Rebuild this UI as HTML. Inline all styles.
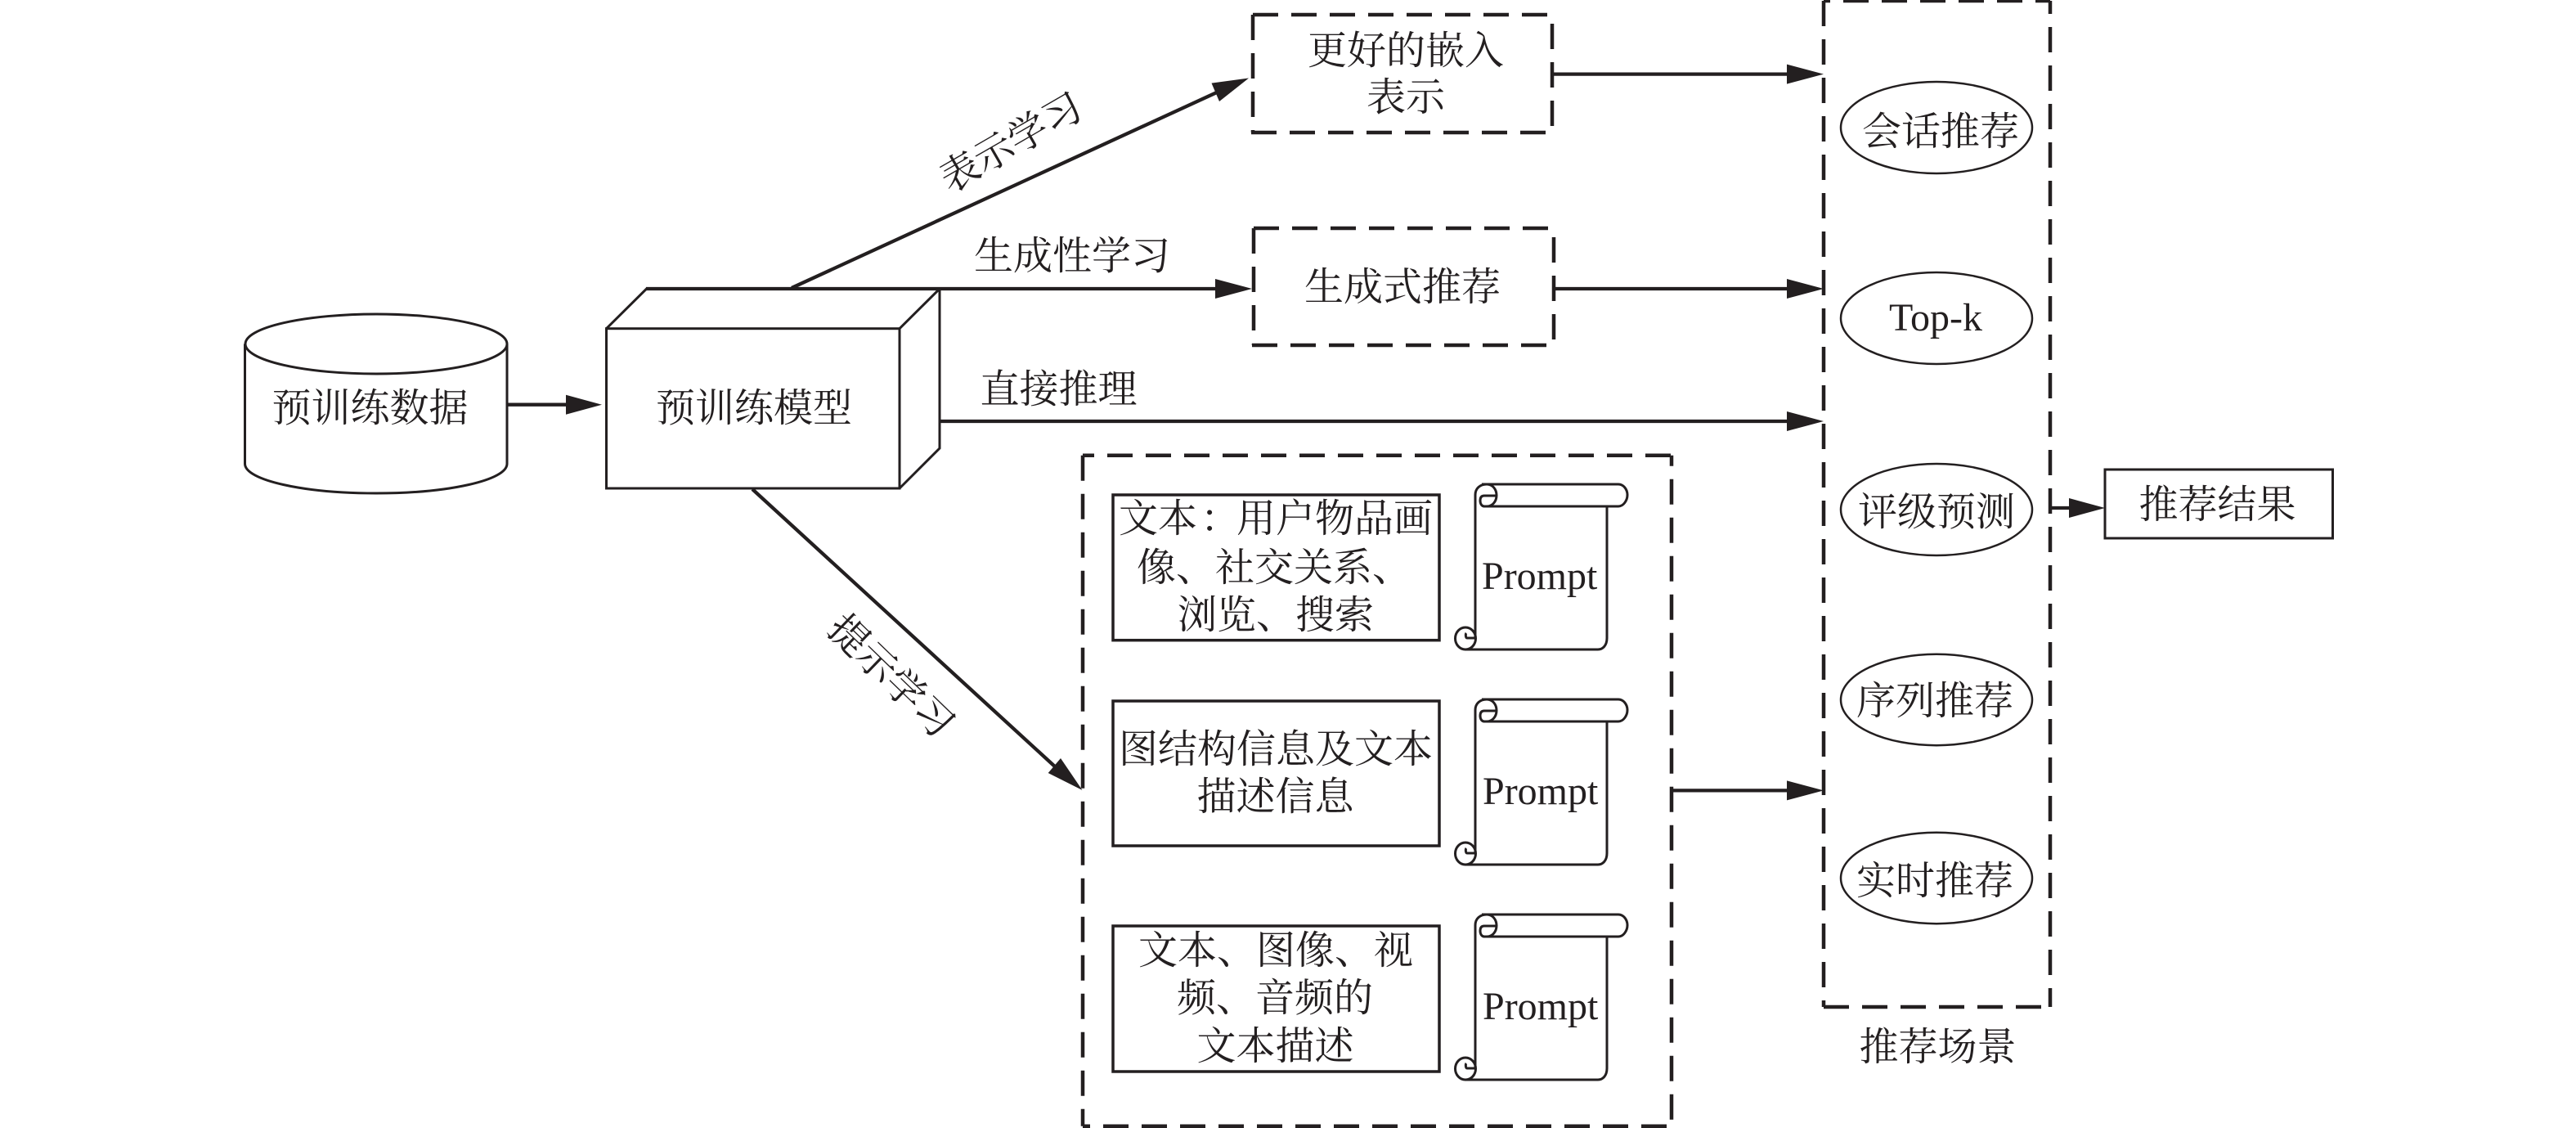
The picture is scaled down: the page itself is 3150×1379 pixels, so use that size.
<!DOCTYPE html>
<html lang="zh"><head><meta charset="utf-8"><title>预训练模型推荐流程图</title>
<style>
html,body{margin:0;padding:0;background:#fff}
svg{display:block}
text{font-family:"Liberation Serif","Noto Serif CJK SC",serif;font-size:48px;fill:#231f20}
.m{text-anchor:middle}
.s{fill:none;stroke:#231f20;stroke-width:4.300}
.b{fill:none;stroke:#231f20;stroke-width:3.500}
.t{fill:none;stroke:#231f20;stroke-width:3}
.e{fill:none;stroke:#231f20;stroke-width:2.500}
.d{fill:none;stroke:#231f20;stroke-width:4.500;stroke-dasharray:31 16}
.a{fill:#231f20;stroke:none}
</style></head><body>
<svg width="3150" height="1379" viewBox="0 0 3150 1379" xmlns="http://www.w3.org/2000/svg">
<defs>
<g id="scroll" fill="none" stroke="#231f20" stroke-width="3">
<path d="M8 0H175C181 0 186 6 186 13S181 27 175 27H10"/>
<path d="M14 0C21 0 26 6 26 13.500S21 27 14 27"/>
<path d="M14 0C6 0 0 5 0 13V188"/>
<path d="M26 14H11C7 14 6 17 6 20C6 24 8 27 11 27"/>
<path d="M161 27V188C161 197 156 202 150 202H-13"/>
<ellipse cx="-12" cy="188.500" rx="12.500" ry="13.500"/>
<path d="M0 188H-10C-12 188 -12 183 -11 182"/>
</g>
</defs>
<rect width="3150" height="1379" fill="#fff"/>

<!-- cylinder -->
<path class="t" d="M299.500 420.500V567C299.500 587 371 603 460 603S620 587 620 567V420.500"/>
<ellipse class="t" cx="460" cy="420.500" rx="160" ry="36.500"/>
<text class="m" x="452.500" y="515">预训练数据</text>
<path class="s" d="M620 494.700H695"/>
<polygon class="a" points="736,494.700 692,482.700 692,506.700"/>

<!-- cube -->
<path class="t" d="M741.500 401.700L790.600 353H1149V548L1100 597M1100 401.700L1149 353"/>
<rect class="t" x="741.500" y="401.700" width="358.500" height="195.300"/>
<text class="m" x="922" y="515">预训练模型</text>

<!-- connectors from the cube -->
<path class="s" d="M968 352L1490 112"/>
<polygon class="a" points="1527,95.500 1481.500,101.600 1491,124"/>
<path class="s" d="M790 353H1490"/>
<polygon class="a" points="1531,353 1486,341 1486,365"/>
<path class="s" d="M1149 515H2190"/>
<polygon class="a" points="2230,515 2185,503 2185,527"/>
<path class="s" d="M920 598L1292 939"/>
<polygon class="a" points="1323.500,966 1281.700,945 1297,927"/>

<text class="m" transform="translate(1236 174) rotate(-30)" x="0" y="17">表示学习</text>
<text class="m" x="1311" y="329">生成性学习</text>
<text class="m" x="1294.500" y="492">直接推理</text>
<text class="m" transform="translate(1090 826) rotate(44)" x="0" y="17">提示学习</text>

<!-- upper dashed boxes -->
<path class="d" d="M1532 18H1898"/>
<path class="d" stroke-dashoffset="36" d="M1898 18V162"/>
<path class="d" d="M1530 162H1898"/>
<path class="d" d="M1532 18V162"/>
<text class="m" x="1719" y="78">更好的嵌入</text>
<text class="m" x="1719" y="135">表示</text>
<path class="s" d="M1898 90.600H2190"/>
<polygon class="a" points="2230,90.600 2185,78.600 2185,102.600"/>

<path class="d" d="M1533 279H1900"/>
<path class="d" stroke-dashoffset="36" d="M1900 279V422"/>
<path class="d" d="M1531 422H1900"/>
<path class="d" d="M1533 279V422"/>
<text class="m" x="1715" y="367">生成式推荐</text>
<path class="s" d="M1900 353H2190"/>
<polygon class="a" points="2230,353 2185,341 2185,365"/>

<!-- prompt group -->
<path class="d" stroke-dashoffset="17" d="M1324 556.700H2044"/>
<path class="d" d="M1324 556.700V1376.700"/>
<path class="d" stroke-dashoffset="18" d="M2044 556.700V1376.700"/>
<path class="d" stroke-dashoffset="22" d="M1324 1376.700H2044"/>

<rect class="b" x="1361" y="605" width="399" height="177.700"/>
<text x="1368" y="650">文本<tspan dx="4">&#xFF1A;</tspan><tspan dx="-4">用户物品画</tspan></text>
<text x="1390" y="710">像、社交关系、</text>
<text class="m" x="1560" y="768">浏览、搜索</text>

<rect class="b" x="1361" y="857" width="399" height="177"/>
<text class="m" x="1560" y="932">图结构信息及文本</text>
<text class="m" x="1559.500" y="990">描述信息</text>

<rect class="b" x="1361" y="1132" width="399" height="178"/>
<text class="m" x="1560" y="1178">文本、图像、视</text>
<text class="m" x="1559" y="1236">频、音频的</text>
<text class="m" x="1559.500" y="1295">文本描述</text>

<use href="#scroll" x="1804" y="592"/>
<use href="#scroll" x="1804" y="855"/>
<use href="#scroll" x="1804" y="1118"/>
<text x="1812" y="720">Prompt</text>
<text x="1813" y="983">Prompt</text>
<text x="1813" y="1246">Prompt</text>

<path class="s" d="M2044 966.400H2190"/>
<polygon class="a" points="2230,966.400 2185,954.400 2185,978.400"/>

<!-- scenario group -->
<path class="d" stroke-dashoffset="23" d="M2230 1H2507"/>
<path class="d" d="M2230 1V1231"/>
<path class="d" stroke-dashoffset="15" d="M2507 1V1231"/>
<path class="d" d="M2230 1231H2507"/>

<ellipse class="e" cx="2368" cy="156" rx="117" ry="56"/>
<text class="m" x="2373" y="177">会话推荐</text>
<ellipse class="e" cx="2368" cy="389" rx="117" ry="56"/>
<text class="m" x="2367" y="404">Top-k</text>
<ellipse class="e" cx="2368" cy="623" rx="117" ry="56"/>
<text class="m" x="2368" y="642">评级预测</text>
<ellipse class="e" cx="2368" cy="855.500" rx="117" ry="55.700"/>
<text class="m" x="2366" y="873">序列推荐</text>
<ellipse class="e" cx="2368" cy="1073.500" rx="117" ry="55.700"/>
<text class="m" x="2366" y="1093">实时推荐</text>
<text class="m" x="2369.500" y="1296">推荐场景</text>

<path class="s" d="M2507 621H2540"/>
<polygon class="a" points="2574,621 2530,609 2530,633"/>
<rect class="t" x="2574" y="574" width="278.500" height="84"/>
<text class="m" x="2711.500" y="633">推荐结果</text>
</svg>
</body></html>
